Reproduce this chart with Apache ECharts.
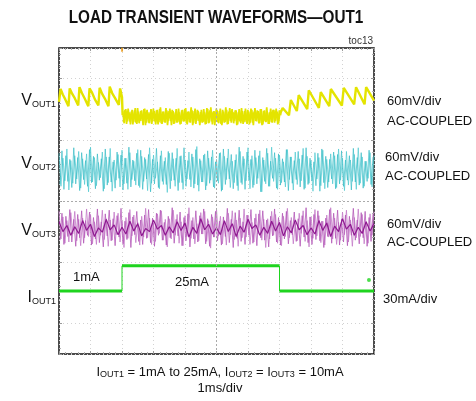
<!DOCTYPE html>
<html><head><meta charset="utf-8">
<script src="https://cdn.jsdelivr.net/npm/echarts@6/dist/echarts.min.js"></script>
<style>html,body{margin:0;padding:0;background:#fff}#c{width:476px;height:401px}</style>
</head><body><div id="c"></div>
<script>
// Time axis: 0..10 ms (1 ms/div). Vertical unit: screen divisions (-0.5 .. 4.5).
const timeRange = [0, 10];
const levelRange = [-0.5, 4.5];

// VOUT1 before the load step (time, level)
const vout1Pre = [[0,3.62],[0.05,3.83],[0.12,3.74],[0.20,3.66],[0.30,3.55],
  [0.34,3.84],[0.42,3.75],[0.50,3.68],[0.61,3.56],
  [0.65,3.86],[0.73,3.76],[0.82,3.67],[0.93,3.55],
  [0.97,3.84],[1.05,3.77],[1.14,3.66],[1.25,3.56],
  [1.29,3.85],[1.37,3.75],[1.46,3.67],[1.57,3.55],
  [1.61,3.87],[1.69,3.76],[1.78,3.68],[1.90,3.57],
  [1.94,3.84],[2.00,3.70],[2.02,3.40]];
// VOUT1 during 25mA load (two sweeps, every 0.05 ms)
const vout1BandStart = 2.02, vout1BandStep = 0.05;
const vout1Band = [3.47,3.27,3.50,3.30,3.45,3.25,3.49,3.29,3.52,3.26,
3.46,3.31,3.48,3.24,3.51,3.28,3.45,3.27,3.50,3.30,
3.47,3.25,3.49,3.29,3.53,3.26,3.46,3.28,3.48,3.31,
3.51,3.24,3.47,3.27,3.50,3.29,3.45,3.26,3.49,3.30,
3.52,3.25,3.46,3.28,3.48,3.27,3.51,3.31,3.47,3.24,
3.49,3.29,3.45,3.26,3.50,3.28,3.53,3.25,3.47,3.30,
3.48,3.27,3.51,3.24,3.46,3.29,3.49,3.26,3.52,3.28,
3.45,3.31,3.48,3.25,3.50,3.27,3.47,3.29,3.51,3.26,
3.46,3.28,3.49,3.24,3.52,3.30,3.47,3.27,3.50,3.25,
3.48,3.29,3.45,3.26,3.51,3.28,3.49,3.31,3.46,3.27,3.48];
const vout1BandB = [3.29,3.49,3.26,3.51,3.30,3.46,3.25,3.48,3.28,3.52,3.27,3.47,3.31,3.50,3.24,3.49,3.28,3.45,3.26,3.51,
3.30,3.48,3.25,3.50,3.27,3.46,3.29,3.52,3.24,3.47,3.31,3.49,3.26,3.45,3.28,3.51,3.25,3.48,3.30,3.50,
3.27,3.46,3.29,3.53,3.24,3.47,3.26,3.49,3.31,3.45,3.28,3.50,3.25,3.52,3.27,3.48,3.30,3.46,3.24,3.51,
3.29,3.47,3.26,3.49,3.28,3.53,3.25,3.46,3.31,3.50,3.27,3.48,3.24,3.45,3.30,3.52,3.26,3.47,3.29,3.49,
3.25,3.51,3.28,3.46,3.31,3.48,3.27,3.50,3.24,3.47,3.30,3.53,3.26,3.45,3.29,3.49,3.28,3.51,3.25,3.48];
// VOUT1 recovery after load release
const vout1Post = [[7.02,3.40],[7.04,3.45],[7.10,3.52],[7.30,3.40],[7.36,3.65],[7.55,3.47],[7.61,3.73],
  [7.88,3.50],[7.93,3.81],[8.25,3.52],[8.31,3.78],[8.58,3.55],[8.63,3.83],[8.98,3.56],
  [9.04,3.85],[9.37,3.58],[9.43,3.86],[9.70,3.58],[9.75,3.86],[10,3.64]];

// VOUT2 ripple (two sweeps, samples every 0.0625 ms)
const noiseStep = 0.0625;
const vout2 = [2.78,2.24,2.70,2.33,2.85,2.18,2.66,2.29,2.74,2.36,2.81,2.21,2.69,2.27,2.77,2.15,2.88,2.31,2.71,2.25,
2.63,2.38,2.80,2.20,2.72,2.30,2.86,2.16,2.67,2.34,2.76,2.23,2.83,2.28,2.70,2.19,2.79,2.35,2.65,2.26,
2.84,2.22,2.73,2.32,2.68,2.17,2.87,2.29,2.75,2.37,2.64,2.20,2.82,2.27,2.71,2.14,2.78,2.33,2.69,2.24,
2.86,2.30,2.74,2.19,2.67,2.36,2.80,2.23,2.72,2.28,2.89,2.16,2.66,2.31,2.77,2.25,2.70,2.34,2.83,2.21,
2.68,2.29,2.79,2.18,2.73,2.35,2.85,2.22,2.65,2.30,2.76,2.17,2.81,2.27,2.69,2.33,2.87,2.20,2.74,2.26,
2.71,2.37,2.82,2.15,2.67,2.28,2.78,2.24,2.88,2.32,2.70,2.19,2.75,2.30,2.64,2.23,2.84,2.35,2.72,2.18,
2.80,2.27,2.69,2.33,2.86,2.21,2.73,2.29,2.66,2.16,2.79,2.36,2.71,2.25,2.83,2.20,2.68,2.31,2.77,2.28,
2.74,2.22,2.85,2.34,2.70,2.17,2.81,2.26,2.67,2.32,2.76,2.19,2.87,2.29,2.72,2.24,2.65,2.37,2.79,2.23,2.75];
const vout2B = [2.27,2.82,2.19,2.74,2.32,2.68,2.22,2.87,2.28,2.71,2.17,2.79,2.35,2.66,2.24,2.84,2.30,2.73,2.20,2.77,
2.34,2.69,2.16,2.85,2.26,2.72,2.31,2.64,2.21,2.80,2.37,2.75,2.18,2.70,2.29,2.88,2.23,2.67,2.33,2.78,
2.25,2.83,2.19,2.71,2.36,2.76,2.15,2.68,2.28,2.86,2.22,2.74,2.32,2.65,2.27,2.81,2.20,2.79,2.34,2.70,
2.17,2.73,2.30,2.87,2.24,2.66,2.35,2.77,2.21,2.84,2.26,2.69,2.31,2.75,2.18,2.82,2.29,2.72,2.23,2.64,
2.33,2.78,2.16,2.85,2.27,2.70,2.36,2.76,2.20,2.67,2.25,2.88,2.30,2.73,2.19,2.80,2.34,2.68,2.22,2.83,
2.28,2.74,2.15,2.71,2.32,2.86,2.24,2.65,2.37,2.79,2.21,2.77,2.26,2.69,2.31,2.84,2.17,2.72,2.29,2.66,
2.35,2.81,2.23,2.75,2.19,2.87,2.27,2.70,2.33,2.64,2.25,2.78,2.16,2.85,2.30,2.73,2.22,2.68,2.36,2.80,
2.20,2.76,2.28,2.82,2.24,2.67,2.34,2.74,2.18,2.86,2.31,2.71,2.26,2.79,2.21,2.65,2.32,2.83,2.27,2.72];

// VOUT3 ripple envelope (two sweeps every 0.0625 ms) and core trace (every 0.125 ms)
const vout3Fuzz = [1.84,1.38,1.74,1.31,1.68,1.33,1.81,1.46,1.83,1.35,1.70,1.27,1.72,1.40,1.87,1.42,1.78,1.30,1.66,1.29,
1.76,1.44,1.85,1.37,1.71,1.26,1.69,1.36,1.82,1.45,1.80,1.33,1.67,1.24,1.73,1.39,1.86,1.43,1.77,1.32,
1.65,1.28,1.75,1.41,1.88,1.40,1.72,1.29,1.64,1.34,1.79,1.47,1.84,1.36,1.70,1.25,1.71,1.38,1.85,1.44,
1.78,1.31,1.66,1.27,1.76,1.42,1.89,1.39,1.73,1.30,1.63,1.35,1.81,1.46,1.83,1.34,1.68,1.23,1.74,1.41,
1.86,1.43,1.75,1.30,1.67,1.28,1.80,1.45,1.84,1.37,1.69,1.26,1.72,1.40,1.87,1.41,1.77,1.29,1.65,1.33,
1.79,1.46,1.85,1.36,1.70,1.24,1.71,1.38,1.83,1.44,1.78,1.31,1.66,1.27,1.75,1.42,1.88,1.40,1.73,1.30,
1.64,1.35,1.80,1.47,1.84,1.34,1.68,1.25,1.74,1.39,1.86,1.43,1.76,1.32,1.67,1.28,1.77,1.41,1.89,1.38,
1.72,1.29,1.65,1.36,1.82,1.45,1.85,1.33,1.69,1.26,1.73,1.40,1.87,1.42,1.78,1.30,1.66,1.31,1.79,1.44,1.83];
const vout3FuzzB = [1.36,1.80,1.29,1.75,1.42,1.86,1.33,1.70,1.26,1.78,1.40,1.84,1.31,1.68,1.44,1.82,1.28,1.73,1.38,1.87,
1.32,1.66,1.25,1.79,1.43,1.85,1.35,1.71,1.27,1.76,1.41,1.88,1.30,1.67,1.37,1.81,1.24,1.74,1.45,1.83,
1.34,1.69,1.29,1.77,1.39,1.86,1.32,1.72,1.26,1.80,1.44,1.85,1.36,1.65,1.28,1.75,1.40,1.89,1.31,1.70,
1.43,1.82,1.27,1.73,1.35,1.79,1.25,1.68,1.38,1.84,1.33,1.76,1.46,1.87,1.30,1.71,1.26,1.78,1.41,1.83,
1.35,1.67,1.28,1.74,1.42,1.88,1.32,1.70,1.24,1.81,1.39,1.85,1.34,1.66,1.29,1.77,1.44,1.86,1.31,1.72,
1.27,1.79,1.40,1.84,1.36,1.69,1.25,1.75,1.43,1.87,1.33,1.73,1.28,1.80,1.38,1.83,1.30,1.68,1.45,1.82,
1.34,1.71,1.26,1.76,1.41,1.89,1.32,1.74,1.29,1.78,1.37,1.84,1.35,1.67,1.24,1.72,1.42,1.86,1.31,1.80,
1.39,1.85,1.28,1.70,1.33,1.77,1.27,1.75,1.44,1.88,1.36,1.69,1.30,1.81,1.40,1.83,1.26,1.73,1.34,1.79];
const coreStep = 0.125;
const vout3Core = [1.66,1.50,1.60,1.44,1.58,1.47,1.68,1.52,1.62,1.42,1.56,1.49,1.70,1.53,1.61,1.45,1.57,1.46,1.67,1.51,
1.63,1.43,1.55,1.50,1.69,1.54,1.60,1.44,1.58,1.48,1.66,1.52,1.64,1.41,1.57,1.47,1.71,1.53,1.62,1.46,
1.56,1.45,1.68,1.50,1.63,1.42,1.59,1.49,1.70,1.55,1.61,1.44,1.57,1.47,1.67,1.51,1.65,1.43,1.58,1.48,
1.69,1.53,1.60,1.45,1.56,1.46,1.68,1.52,1.64,1.42,1.59,1.50,1.71,1.54,1.62,1.44,1.57,1.47,1.66,1.51,1.63];

// IOUT1 load current: 1mA -> 25mA -> 1mA
const ioutLow = 0.53, ioutHigh = 0.94;
const ioutEdges = [2.0, 7.0];
const groundMarker = [[9.84, 0.71]];
const triggerMarker = [[2.0, 4.47]];

const leftLabels = [['V','OUT1',100],['V','OUT2',163],['V','OUT3',230],['I','OUT1',297]];
const rightLabels = [['60mV/div',387,101],['AC-COUPLED',387,121],['60mV/div',385,157],['AC-COUPLED',385,176],
  ['60mV/div',387,224],['AC-COUPLED',387,242],['30mA/div',383,299]];

const even = (arr, t0, dt) => arr.map((v, i) => [t0 + i * dt, v]);

const ioutLevels = [[timeRange[0], ioutLow],[ioutEdges[0], ioutLow], null,
  [ioutEdges[0], ioutHigh],[ioutEdges[1], ioutHigh], null,
  [ioutEdges[1], ioutLow],[timeRange[1], ioutLow]];
const ioutSteps = [[ioutEdges[0], ioutLow],[ioutEdges[0], ioutHigh], null,[ioutEdges[1], ioutHigh],[ioutEdges[1], ioutLow]];

const F = '"Liberation Sans", Arial, sans-serif';

const chart = echarts.init(document.getElementById('c'), null, {renderer:'canvas'});
const tickCommon = {
  axisLabel:{show:false}, axisLine:{show:false, onZero:false},
  axisTick:{show:true, inside:true, length:3, lineStyle:{color:'#999'}},
  minorTick:{show:true, splitNumber:5, length:2, lineStyle:{color:'#b0b0b0'}}
};
const graphics = [
  {type:'text', x:216, y:18, scaleX:0.85, style:{text:'LOAD TRANSIENT WAVEFORMS—OUT1', font:'bold 18px ' + F, fill:'#111', align:'center', verticalAlign:'middle'}},
  {type:'text', x:373, y:41, style:{text:'toc13', font:'10px ' + F, fill:'#333', align:'right', verticalAlign:'middle'}},
  {type:'text', x:73, y:277, style:{text:'1mA', font:'13px ' + F, fill:'#111', align:'left', verticalAlign:'middle'}},
  {type:'text', x:175, y:282, style:{text:'25mA', font:'13px ' + F, fill:'#111', align:'left', verticalAlign:'middle'}},
  {type:'text', x:220, y:371, style:{
    text:'{m|I}{s|OUT1}{m| = 1mA to 25mA, I}{s|OUT2}{m| = I}{s|OUT3}{m| = 10mA}',
    align:'center', verticalAlign:'middle', fill:'#111',
    rich:{m:{fontSize:13, fontFamily:F, lineHeight:16, verticalAlign:'bottom', fill:'#111'},
          s:{fontSize:9, fontFamily:F, lineHeight:9, verticalAlign:'bottom', fill:'#111'}}}},
  {type:'text', x:220, y:388, style:{text:'1ms/div', font:'13px ' + F, fill:'#111', align:'center', verticalAlign:'middle'}}
];
leftLabels.forEach(([a,b,y]) => graphics.push({type:'text', x:56, y:y, style:{
  text:'{m|' + a + '}{s|' + b + '}', align:'right', verticalAlign:'middle', fill:'#111',
  rich:{m:{fontSize:16, fontFamily:F, lineHeight:18, verticalAlign:'bottom', fill:'#111'},
        s:{fontSize:9, fontFamily:F, lineHeight:10, verticalAlign:'bottom', fill:'#111'}}}}));
rightLabels.forEach(([t,x,y]) => graphics.push({type:'text', x:x, y:y, style:{text:t, font:'13px ' + F, fill:'#111', align:'left', verticalAlign:'middle'}}));

const yellow = '#e4e400';
chart.setOption({
  animation:false,
  backgroundColor:'#fff',
  grid:{left:59, top:48, width:315, height:306, show:true, borderColor:'#111', borderWidth:1.5, backgroundColor:'#fff'},
  xAxis:[
    Object.assign({type:'value', min:timeRange[0], max:timeRange[1], interval:1, position:'bottom',
      splitLine:{show:true, lineStyle:{color:'#d2d2d2', type:[1,3]}}}, tickCommon),
    Object.assign({type:'value', min:timeRange[0], max:timeRange[1], interval:1, position:'top',
      splitLine:{show:false}}, tickCommon)
  ],
  yAxis:[
    Object.assign({type:'value', min:levelRange[0], max:levelRange[1], splitNumber:5, position:'left',
      splitLine:{show:true, lineStyle:{color:'#d2d2d2', type:[1,3]}}}, tickCommon),
    Object.assign({type:'value', min:levelRange[0], max:levelRange[1], splitNumber:5, position:'right',
      splitLine:{show:false}}, tickCommon)
  ],
  graphic:graphics,
  series:[
    {type:'line', data:[], markLine:{silent:true, symbol:'none', label:{show:false},
      lineStyle:{color:'#aaa', type:[2,2], width:1}, data:[{xAxis:5},{yAxis:2}]}},
    {name:'VOUT2', type:'line', showSymbol:false, data:even(vout2, 0, noiseStep), lineStyle:{color:'#4cc8d0', width:0.7}},
    {name:'VOUT2 b', type:'line', showSymbol:false, data:even(vout2B, noiseStep/2, noiseStep), lineStyle:{color:'#36bcc6', width:0.7}},
    {name:'VOUT3 fuzz', type:'line', showSymbol:false, data:even(vout3Fuzz, 0, noiseStep), lineStyle:{color:'#c47ac8', width:0.8}},
    {name:'VOUT3 fuzz b', type:'line', showSymbol:false, data:even(vout3FuzzB, noiseStep/2, noiseStep), lineStyle:{color:'#b458b8', width:0.8}},
    {name:'VOUT3', type:'line', showSymbol:false, data:even(vout3Core, 0, coreStep), lineStyle:{color:'#8e1890', width:1.2}},
    {name:'VOUT1 pre', type:'line', showSymbol:false, data:vout1Pre, lineStyle:{color:yellow, width:2.4}},
    {name:'VOUT1 band', type:'line', showSymbol:false, data:even(vout1Band, vout1BandStart, vout1BandStep), lineStyle:{color:yellow, width:1.7}},
    {name:'VOUT1 band b', type:'line', showSymbol:false, data:even(vout1BandB, vout1BandStart + vout1BandStep/2, vout1BandStep), lineStyle:{color:yellow, width:1.7}},
    {name:'VOUT1 post', type:'line', showSymbol:false, data:vout1Post, lineStyle:{color:yellow, width:2.4}},
    {name:'IOUT1 steps', type:'line', showSymbol:false, connectNulls:false, data:ioutSteps, lineStyle:{color:'#1fd41f', width:1}},
    {name:'IOUT1', type:'line', showSymbol:false, connectNulls:false, data:ioutLevels, lineStyle:{color:'#1fd41f', width:3}},
    {type:'scatter', data:groundMarker, symbolSize:4, itemStyle:{color:'#1fd41f'}},
    {type:'scatter', data:triggerMarker, symbol:'rect', symbolSize:[2,4], itemStyle:{color:'#f0a020'}}
  ]
});
</script></body></html>
